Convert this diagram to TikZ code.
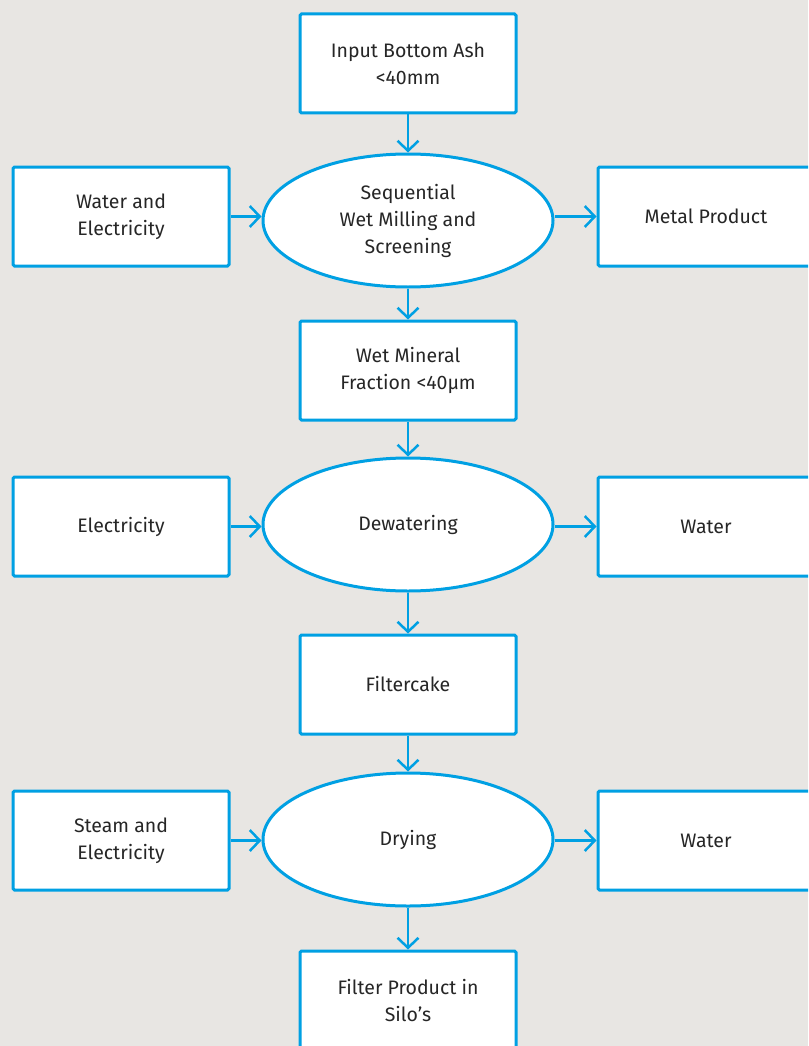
\documentclass[tikz,border=0pt]{standalone}
\usepackage{fontspec}
\setmainfont{Fira Sans}
\usetikzlibrary{shapes.geometric, arrows.meta, positioning}

\definecolor{flowblue}{RGB}{0,160,227}
\definecolor{paper}{RGB}{232,230,227}

\begin{document}
\begin{tikzpicture}[
    x=1pt, y=1pt,
    box/.style={rectangle, draw=flowblue, fill=white, line width=3pt, rounded corners=1.5pt, minimum width=216pt, minimum height=99pt, align=center, font=\fontsize{19.5}{27}\selectfont, text=black!85},
    procnode/.style={ellipse, draw=flowblue, fill=white, line width=3pt, minimum width=290pt, minimum height=133pt, align=center, inner sep=0pt, font=\fontsize{19.5}{27}\selectfont, text=black!85},
    arrow/.style={draw=flowblue, line width=2.5pt, -{Straight Barb[length=10pt, width=21pt, line width=2.5pt]}}
]

% Fondo y marco
\fill[paper] (0,0) rectangle (808,-1046);
\clip (0,0) rectangle (808,-1046);

% Columna principal
\node[box] (input) at (408,-63.5) {Input Bottom Ash\\<40mm};
\node[procnode, below=38pt of input] (milling) {Sequential\\Wet Milling and\\Screening};
\node[box, below=31pt of milling] (mineral) {Wet Mineral\\Fraction <40μm};
\node[procnode, below=35pt of mineral] (dewater) {Dewatering};
\node[box, below=41pt of dewater] (cake) {Filtercake};
\node[procnode, below=36pt of cake] (drying) {Drying};
\node[box, below=42pt of drying] (silo) {Filter Product in\\Silo’s};

% Entradas
\node[box, left=31pt of milling, yshift=4pt] (waterelec) {Water and\\Electricity};
\node[box, left=31pt of dewater, yshift=-2pt] (elec) {Electricity};
\node[box, left=31pt of drying, yshift=-1pt] (steam) {Steam and\\Electricity};

% Salidas
\node[box, right=42pt of milling, yshift=4pt] (metal) {Metal Product};
\node[box, right=42pt of dewater, yshift=-2pt] (water1) {Water};
\node[box, right=42pt of drying, yshift=-1pt] (water2) {Water};

% Flechas principales
\draw[arrow] (input) -- (milling);
\draw[arrow] (milling) -- (mineral);
\draw[arrow] (mineral) -- (dewater);
\draw[arrow] (dewater) -- (cake);
\draw[arrow] (cake) -- (drying);
\draw[arrow] (drying) -- (silo);

% Flechas laterales
\draw[arrow] (waterelec.east) -- (waterelec.east -| milling.west);
\draw[arrow] (elec.east) -- (elec.east -| dewater.west);
\draw[arrow] (steam.east) -- (steam.east -| drying.west);
\draw[arrow] (metal.west -| milling.east) -- (metal.west);
\draw[arrow] (water1.west -| dewater.east) -- (water1.west);
\draw[arrow] (water2.west -| drying.east) -- (water2.west);

\end{tikzpicture}
\end{document}
